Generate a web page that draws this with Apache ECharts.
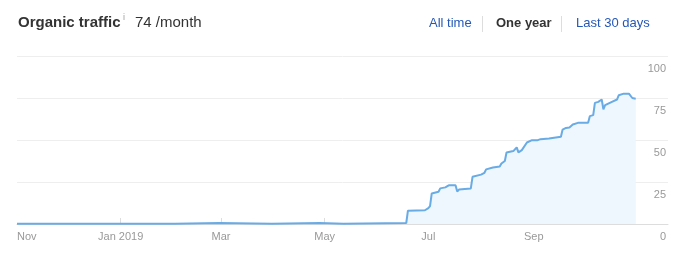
<!DOCTYPE html>
<html>
<head>
<meta charset="utf-8">
<script src="https://cdn.jsdelivr.net/npm/echarts@6/dist/echarts.min.js"></script>
<style>
html,body{margin:0;padding:0;background:#fff;}
#chart{width:687px;height:265px;}
</style>
</head>
<body>
<div id="chart"></div>
<script>
// ---- data ----
var dates = ['2018-11-01','2019-02-02','2019-02-03','2019-02-28','2019-03-01','2019-03-31','2019-04-01','2019-04-28','2019-04-29','2019-05-12','2019-05-13','2019-06-18','2019-06-19','2019-06-29','2019-07-01','2019-07-02','2019-07-03','2019-07-07','2019-07-08','2019-07-11','2019-07-13','2019-07-17','2019-07-18','2019-07-19','2019-07-26','2019-07-27','2019-08-01','2019-08-03','2019-08-04','2019-08-08','2019-08-12','2019-08-13','2019-08-15','2019-08-16','2019-08-20','2019-08-22','2019-08-23','2019-08-25','2019-08-28','2019-08-31','2019-09-03','2019-09-05','2019-09-10','2019-09-17','2019-09-18','2019-09-20','2019-09-22','2019-09-24','2019-09-27','2019-10-03','2019-10-04','2019-10-06','2019-10-07','2019-10-09','2019-10-11','2019-10-12','2019-10-13','2019-10-17','2019-10-20','2019-10-21','2019-10-24','2019-10-27','2019-10-29','2019-10-31'];
var traffic = [0.2,0.2,0.6,0.6,0.2,0.2,0.6,0.6,0.2,0.2,0.6,0.6,7.9,8.2,9.5,10.7,18.2,19.2,21.2,21.8,23,23,19.3,20.5,21.2,28.1,29.4,30.5,32.5,33.6,34.2,36,37.5,42.6,43.4,45.6,42.6,44,48.5,49.9,49.8,50.5,50.9,51.9,56.2,57.2,57.4,59.2,60.2,60.2,64.2,64.8,72.1,72.7,74.1,68.3,70.7,72.7,74.1,76.6,77.6,77.6,75,74.6];
var tickDates = ['2018-11-01','2019-01-01','2019-03-01','2019-05-01','2019-07-01','2019-09-01'];
var tickLabels = ['Nov','Jan 2019','Mar','May','Jul','Sep'];
var axisStart = '2018-11-01';
var axisEnd = '2019-11-19';
var yTicks = [0,25,50,75,100];

function ts(s){ var p = s.split('-'); return Date.UTC(+p[0], +p[1]-1, +p[2]); }
var tickTs = tickDates.map(ts);
var seriesData = dates.map(function(d,i){ return [ts(d), traffic[i]]; });

var chart = echarts.init(document.getElementById('chart'), null, {renderer:'canvas'});
var FONT = 'Liberation Sans, Arial, sans-serif';
chart.setOption({
  animation:false,
  textStyle:{fontFamily:FONT},
  grid:{left:17, right:19, top:56, bottom:41, containLabel:false},
  xAxis:{
    type:'value',
    min: ts(axisStart), max: ts(axisEnd),
    axisLine:{show:true, lineStyle:{color:'#dddddd', width:1}},
    axisTick:{show:true, inside:true, length:6, lineStyle:{color:'#dddddd'}, customValues: tickTs.slice(1)},
    splitLine:{show:false},
    axisLabel:{
      customValues: tickTs,
      color:'#999999', fontSize:11, fontFamily:FONT, margin:7,
      alignMinLabel:'left',
      formatter:function(v){ var i = tickTs.indexOf(v); return i>=0 ? tickLabels[i] : ''; }
    }
  },
  yAxis:{
    type:'value', position:'right', min:0, max:100, interval:25,
    axisLine:{show:false}, axisTick:{show:false},
    splitLine:{show:true, lineStyle:{color:'#eeeeee', width:1}},
    axisLabel:{inside:true, margin:2, color:'#999999', fontSize:11, fontFamily:FONT,
      verticalAlign:'top', padding:[7,0,0,0],
      formatter:function(v){ return yTicks.indexOf(v)>=0 ? String(v) : ''; }}
  },
  series:[{
    type:'line', data:seriesData, symbol:'none', smooth:false,
    lineStyle:{color:'#69abe5', width:2},
    areaStyle:{color:'#eef6fe', opacity:1},
    z:3
  }],
  graphic:[
    {type:'text', left:18, top:15, style:{text:'Organic traffic', font:'bold 15px '+FONT, fill:'#333333'}},
    {type:'text', left:123, top:13, style:{text:'i', font:'9px '+FONT, fill:'#a0a0a0'}},
    {type:'text', left:135, top:15, style:{text:'74 /month', font:'15px '+FONT, fill:'#333333'}},
    {type:'text', left:429, top:17, style:{text:'All time', font:'13px '+FONT, fill:'#2458b8'}},
    {type:'rect', shape:{x:482, y:16, width:1, height:16}, style:{fill:'#dddddd'}},
    {type:'text', left:496, top:17, style:{text:'One year', font:'bold 13px '+FONT, fill:'#333333'}},
    {type:'rect', shape:{x:561, y:16, width:1, height:16}, style:{fill:'#dddddd'}},
    {type:'text', left:576, top:17, style:{text:'Last 30 days', font:'13px '+FONT, fill:'#2458b8'}}
  ]
});
</script>
</body>
</html>
